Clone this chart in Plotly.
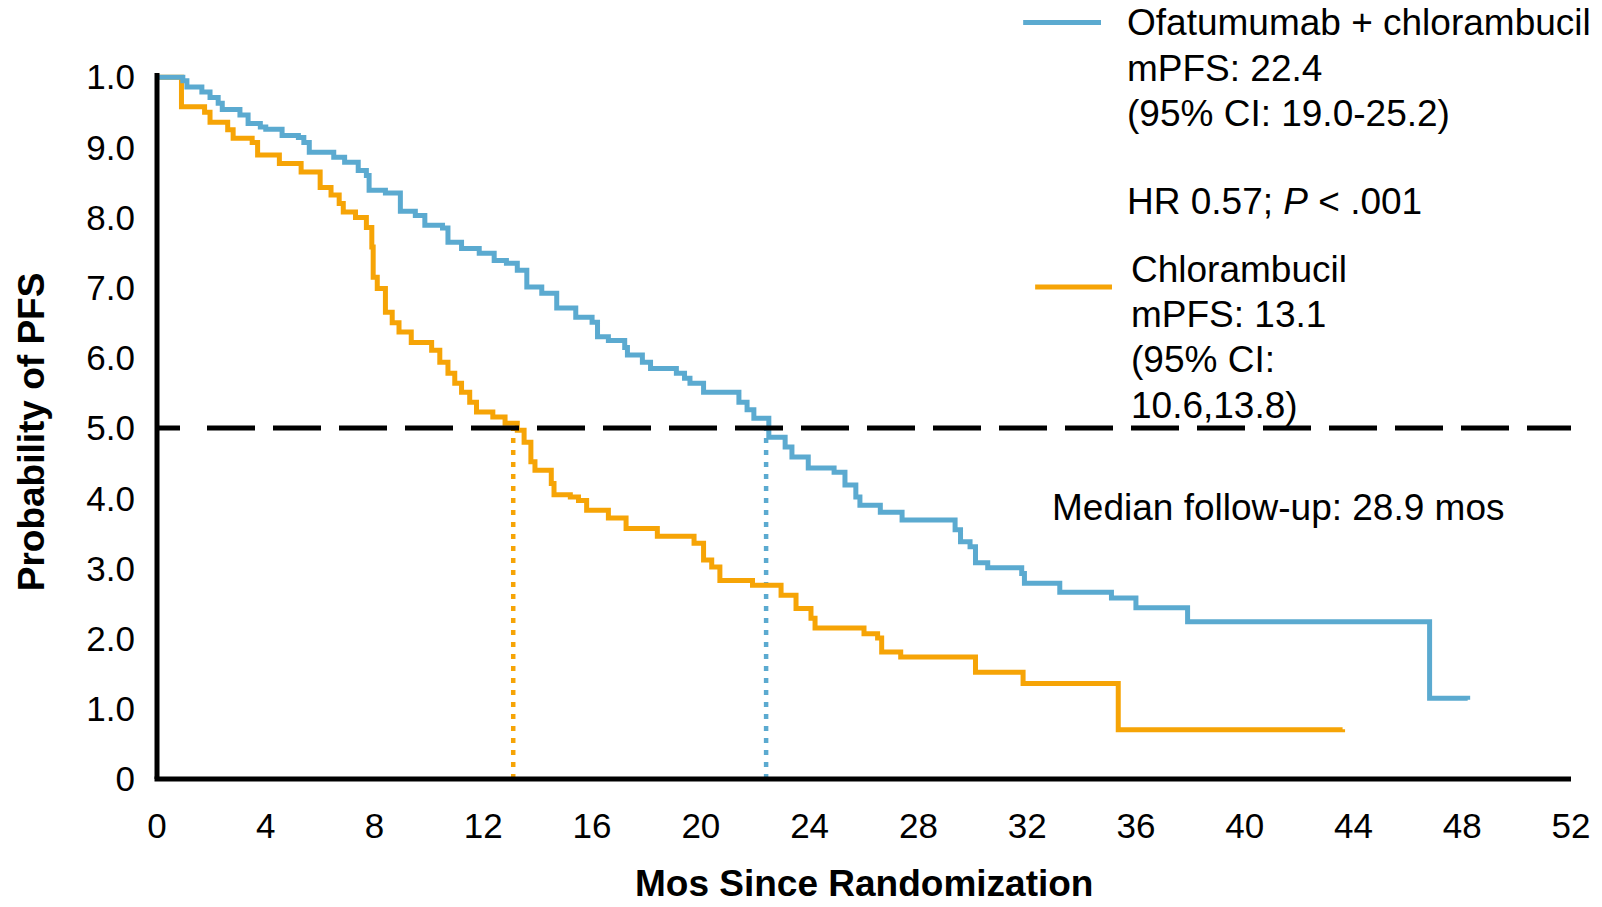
import plotly.graph_objects as go

# Kaplan-Meier step data: event times (months) and survival after each step
ofa_months = [0, 0.95, 1.1, 1.65, 1.95, 2.25, 2.4, 3.05, 3.35, 3.8, 4.0, 4.6, 5.2, 5.4, 5.6,
              6.5, 6.9, 7.4, 7.7, 7.8, 8.4, 8.95, 9.5, 9.85, 10.5, 10.7, 11.2, 11.85, 12.4,
              12.85, 13.25, 13.6, 14.15, 14.7, 15.4, 16.0, 16.2, 16.6, 17.2, 17.3, 17.85,
              18.15, 19.1, 19.4, 19.6, 20.1, 21.4, 21.7, 21.95, 22.5, 23.1, 23.35, 23.95,
              24.9, 25.3, 25.7, 25.85, 26.6, 27.4, 29.35, 29.55, 29.9, 30.1, 30.55, 31.8,
              31.9, 33.2, 35.1, 36.0, 37.9, 46.8, 48.2]
ofa_surv = [1.0, 0.995, 0.986, 0.979, 0.971, 0.963, 0.954, 0.946, 0.934, 0.929, 0.926, 0.917,
            0.914, 0.907, 0.893, 0.886, 0.879, 0.867, 0.860, 0.839, 0.835, 0.809, 0.803,
            0.789, 0.785, 0.765, 0.756, 0.749, 0.739, 0.735, 0.725, 0.701, 0.692, 0.671,
            0.658, 0.651, 0.630, 0.625, 0.615, 0.604, 0.594, 0.585, 0.578, 0.571, 0.564,
            0.551, 0.537, 0.526, 0.514, 0.487, 0.473, 0.459, 0.443, 0.437, 0.419, 0.402,
            0.390, 0.380, 0.369, 0.355, 0.338, 0.331, 0.308, 0.301, 0.293, 0.279, 0.266,
            0.258, 0.244, 0.224, 0.115, 0.113]

chl_months = [0, 0.9, 1.75, 1.95, 2.6, 2.8, 3.5, 3.7, 4.5, 5.3, 6.0, 6.4, 6.7, 6.85, 7.3,
              7.7, 7.9, 7.95, 8.1, 8.4, 8.65, 8.9, 9.35, 10.1, 10.4, 10.7, 10.95, 11.2,
              11.5, 11.75, 12.35, 12.8, 13.25, 13.5, 13.75, 13.9, 14.5, 14.6, 15.2, 15.5,
              15.8, 16.6, 17.25, 18.4, 19.75, 20.1, 20.4, 20.7, 21.9, 22.95, 23.5, 24.05,
              24.2, 26.0, 26.5, 26.65, 27.35, 30.1, 31.85, 35.35, 43.6]
chl_surv = [1.0, 0.958, 0.950, 0.936, 0.925, 0.913, 0.907, 0.889, 0.877, 0.865, 0.843, 0.832,
            0.820, 0.808, 0.800, 0.786, 0.758, 0.715, 0.699, 0.665, 0.650, 0.637, 0.622,
            0.611, 0.594, 0.578, 0.564, 0.551, 0.537, 0.523, 0.516, 0.507, 0.497, 0.480,
            0.452, 0.440, 0.421, 0.405, 0.402, 0.397, 0.383, 0.372, 0.357, 0.346, 0.336,
            0.312, 0.302, 0.283, 0.276, 0.262, 0.243, 0.229, 0.215, 0.207, 0.201, 0.181,
            0.174, 0.152, 0.136, 0.070, 0.071]

median_ofa = 22.4
median_chl = 13.1
median_level = 0.5

x_ticks = list(range(0, 53, 4))
y_tickvals = [0, 0.1, 0.2, 0.3, 0.4, 0.5, 0.6, 0.7, 0.8, 0.9, 1.0]
y_ticktext = ["0", "1.0", "2.0", "3.0", "4.0", "5.0", "6.0", "7.0", "8.0", "9.0", "1.0"]

BLUE = "#5BAAD0"
ORANGE = "#F6A406"
FONT = "Liberation Sans, Arial, sans-serif"

W, H = 1602, 907
ML, MR, MT, MB = 157, 28, 73, 128
PW, PH = W - ML - MR, H - MT - MB


def px(xp):
    return (xp - ML) / PW


def py(yp):
    return (H - MB - yp) / PH


# long-dash pattern for the 50% line: short lead-in dash, then 48/18 repeats
ref_dash = "23px,27px," + ",".join(["48px,18px"] * 24)

fig = go.Figure()

# median markers (dotted verticals)
fig.add_trace(go.Scatter(x=[median_chl, median_chl], y=[0, median_level], mode="lines",
                         line=dict(color=ORANGE, width=4.5, dash="5px,7px"),
                         hoverinfo="skip", showlegend=False))
fig.add_trace(go.Scatter(x=[median_ofa, median_ofa], y=[0, median_level], mode="lines",
                         line=dict(color=BLUE, width=4.5, dash="5px,7px"),
                         hoverinfo="skip", showlegend=False))

# survival curves
fig.add_trace(go.Scatter(x=chl_months, y=chl_surv, mode="lines", line_shape="hv",
                         line=dict(color=ORANGE, width=5), name="Chlorambucil",
                         showlegend=False))
fig.add_trace(go.Scatter(x=ofa_months, y=ofa_surv, mode="lines", line_shape="hv",
                         line=dict(color=BLUE, width=5), name="Ofatumumab + chlorambucil",
                         showlegend=False))

# 50% reference line
fig.add_trace(go.Scatter(x=[0, 52], y=[median_level, median_level], mode="lines",
                         line=dict(color="black", width=5, dash=ref_dash),
                         hoverinfo="skip", showlegend=False))

shapes = [
    # axis lines centred on the plot edges
    dict(type="line", xref="paper", yref="paper", x0=px(ML - 2.5), x1=1, y0=0, y1=0,
         line=dict(color="black", width=5), layer="above"),
    dict(type="line", xref="paper", yref="paper", x0=0, x1=0, y0=0, y1=1,
         line=dict(color="black", width=5), layer="above"),
    # legend keys
    dict(type="line", xref="paper", yref="paper", x0=px(1025), x1=px(1103),
         y0=py(22.5), y1=py(22.5), line=dict(color=BLUE, width=5)),
    dict(type="line", xref="paper", yref="paper", x0=px(1037), x1=px(1114),
         y0=py(287), y1=py(287), line=dict(color=ORANGE, width=5)),
]

annotations = []


def label(text, xp, yp, size=37, anchor="left", **kw):
    annotations.append(dict(text=text, x=px(xp), y=py(yp), xref="paper", yref="paper",
                            xanchor=anchor, yanchor="middle", showarrow=False,
                            font=dict(family=FONT, size=size, color="black"), **kw))


label("Ofatumumab + chlorambucil", 1127, 23)
label("mPFS: 22.4", 1127, 68)
label("(95% CI: 19.0-25.2)", 1127, 113)
label("HR 0.57; <i>P</i> &lt; .001", 1127, 202)
label("Chlorambucil", 1131, 269)
label("mPFS: 13.1", 1131, 314)
label("(95% CI:", 1131, 359)
label("10.6,13.8)", 1131, 405)
label("Median follow-up: 28.9 mos", 1052, 507)

label("<b>Mos Since Randomization</b>", 865, 883, anchor="center", borderpad=0)
label("<b>Probability of PFS</b>", 31, 432, anchor="center", textangle=-90)

fig.update_layout(
    width=W, height=H, autosize=False,
    margin=dict(l=ML, r=MR, t=MT, b=MB, pad=0),
    paper_bgcolor="white", plot_bgcolor="white",
    font=dict(family=FONT, size=35, color="black"),
    shapes=shapes, annotations=annotations,
    xaxis=dict(range=[0, 52], tickvals=x_ticks, showgrid=False, zeroline=False,
               showline=False, ticks="", ticklabelstandoff=23,
               tickfont=dict(family=FONT, size=35, color="black")),
    yaxis=dict(range=[0, 1.006], tickvals=y_tickvals, ticktext=y_ticktext,
               showgrid=False, zeroline=False, showline=False, ticks="",
               ticklabelstandoff=21,
               tickfont=dict(family=FONT, size=35, color="black")),
)

fig.write_html("out.html")
